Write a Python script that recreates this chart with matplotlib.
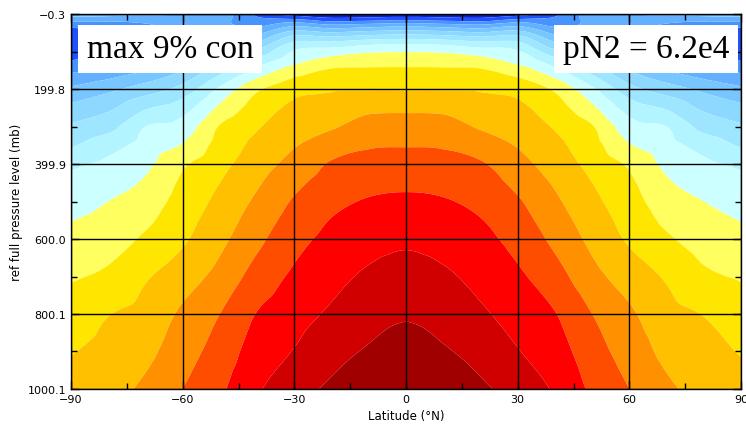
import numpy as np
import matplotlib
matplotlib.use("Agg")
import matplotlib.pyplot as plt
import matplotlib.tri as mtri
from matplotlib.ticker import FixedLocator

# ---- data ----
# pressure levels (mb) of the value table rows
pressure = [0, 10, 25, 40, 60, 80, 100, 125, 150, 200, 250, 300, 350, 400, 450, 500, 550, 600, 700, 800, 900, 1000]
# latitudes of the (symmetric) half table
lat_half = [0, 10, 20, 30, 40, 50, 60, 70, 80, 90]
# field value (contour band index) per latitude column, top to bottom
v_lat00 = [0.3, 1.25, 3.11, 4.7, 6.5, 8.02, 8.95, 9.63, 10.17, 10.94, 11.81, 12.41, 12.95, 13.38, 13.81, 14.18, 14.5, 14.83, 15.38, 15.9, 16.4, 16.9]
v_lat10 = [0.35, 1.11, 2.88, 4.5, 6.33, 7.86, 8.86, 9.59, 10.16, 10.94, 11.78, 12.38, 12.9, 13.32, 13.72, 14.08, 14.36, 14.64, 15.16, 15.63, 16.1, 16.6]
v_lat20 = [0.45, 1.0, 2.67, 4.2, 6.0, 7.47, 8.5, 9.42, 10.11, 10.89, 11.42, 11.9, 12.53, 13.1, 13.42, 13.74, 14.04, 14.26, 14.7, 15.15, 15.67, 16.17]
v_lat30 = [0.5, 1.63, 3.3, 4.67, 6.2, 7.35, 8.11, 8.67, 9.5, 10.67, 11.21, 11.57, 11.93, 12.33, 12.75, 13.11, 13.39, 13.67, 14.17, 14.61, 15.05, 15.61]
v_lat40 = [1.8, 2.1, 2.6, 3.25, 4.25, 5.25, 6.25, 7.4, 8.29, 9.83, 10.43, 10.9, 11.25, 11.56, 11.88, 12.18, 12.47, 12.76, 13.4, 14.04, 14.46, 14.88]
v_lat50 = [3.5, 3.4, 3.2, 3.1, 3.15, 3.8, 4.6, 5.6, 6.6, 8.2, 9.2, 10.07, 10.38, 10.69, 11.0, 11.25, 11.5, 11.75, 12.33, 13.0, 13.42, 13.83]
v_lat60 = [4.0, 3.7, 3.4, 3.25, 3.2, 3.4, 3.95, 4.44, 5.0, 6.38, 7.56, 8.4, 9.08, 9.85, 10.18, 10.41, 10.64, 10.86, 11.54, 12.17, 12.58, 13.0]
v_lat70 = [4.2, 3.6, 3.0, 2.75, 2.7, 2.8, 3.0, 3.5, 4.0, 5.5, 6.88, 8.0, 8.38, 8.77, 9.13, 9.47, 9.8, 10.15, 10.89, 11.35, 11.75, 12.2]
v_lat80 = [4.3, 3.75, 2.7, 2.25, 2.0, 2.1, 2.3, 2.7, 3.33, 4.75, 5.8, 6.67, 7.6, 8.23, 8.62, 9.0, 9.29, 9.57, 10.19, 10.96, 11.32, 11.66]
v_lat90 = [4.4, 3.82, 2.54, 1.87, 1.5, 1.33, 1.55, 2.0, 2.78, 4.18, 5.25, 6.15, 6.9, 7.8, 8.27, 8.62, 8.97, 9.28, 9.9, 10.43, 10.94, 11.37]

band_colors = ["#0b24c9", "#2050ff", "#4894ff", "#62b0ff", "#78c6ff", "#8cd8ff",
               "#9ee6ff", "#b2f4ff", "#ccffff", "#ffff60", "#ffe600", "#ffc000",
               "#ff9000", "#ff4d00", "#ff0000", "#d00000", "#a00000"]

xticks = [-90, -60, -30, 0, 30, 60, 90]
yticks = [-0.3, 199.8, 399.9, 600.0, 800.1, 1000.1]
ytick_labels = ["-0.3", "199.8", "399.9", "600.0", "800.1", "1000.1"]

# ---- build full symmetric table ----
cols_half = [v_lat00, v_lat10, v_lat20, v_lat30, v_lat40, v_lat50, v_lat60, v_lat70, v_lat80, v_lat90]
lats = [-l for l in lat_half[:0:-1]] + lat_half
cols = cols_half[:0:-1] + cols_half
Z = np.array(cols).T
P_plot = np.array(pressure, dtype=float)
P_plot[0] = -0.3
P_plot[-1] = 1000.1

LAT, PP = np.meshgrid(np.array(lats, dtype=float), P_plot)
# triangulate in (roughly isotropic) display units, smooth with matplotlib's tri refiner
sx, sy = 670 / 180.0, 0.375
tri = mtri.Triangulation(LAT.ravel() * sx, PP.ravel() * sy)
refiner = mtri.UniformTriRefiner(tri)
interp = mtri.CubicTriInterpolator(tri, Z.ravel(), kind="geom")
tri_ref, z_ref = refiner.refine_field(Z.ravel(), triinterpolator=interp, subdiv=4)
tri_plot = mtri.Triangulation(tri_ref.x / sx, tri_ref.y / sy, triangles=tri_ref.triangles)

fig = plt.figure(figsize=(7.46, 4.31), dpi=100)
ax = fig.add_axes([71/746, 1 - 390/431, 670/746, 375/431])

levels = list(range(len(band_colors) + 1))
z_ref = np.clip(z_ref, 0.01, len(band_colors) - 0.01)
ax.tricontourf(tri_plot, z_ref, levels=levels, colors=band_colors, antialiased=True)

ax.set_xlim(-90, 90)
ax.set_ylim(1000.1, -0.3)
ax.set_xticks(xticks)
ax.set_xticklabels([str(t).replace("-", "\u2212") for t in xticks])
ax.xaxis.set_minor_locator(FixedLocator([-75, -45, -15, 15, 45, 75]))
ax.set_yticks(yticks)
ax.set_yticklabels([t.replace("-", "\u2212") for t in ytick_labels])
ax.yaxis.set_minor_locator(FixedLocator([100, 300, 500, 700, 900]))
ax.tick_params(which="both", direction="in", top=True, right=True, labelsize=8, color="black")
ax.tick_params(which="major", length=6, width=1)
ax.tick_params(which="minor", length=4, width=1)
ax.grid(True, which="major", color="black", linewidth=1)
for s in ax.spines.values():
    s.set_linewidth(1)
    s.set_color("black")

ax.set_xlabel("Latitude (°N)", fontsize=8.5, labelpad=4)
ax.set_ylabel("ref full pressure level (mb)", fontsize=8.5, labelpad=3)

fig.text(170/746, 1 - 50/431, "max 9% con", family="Liberation Serif", fontsize=24,
         ha="center", va="center",
         bbox=dict(facecolor="white", edgecolor="none", boxstyle="square,pad=0.25"))
fig.text(646/746, 1 - 50/431, "pN2 = 6.2e4", family="Liberation Serif", fontsize=24,
         ha="center", va="center",
         bbox=dict(facecolor="white", edgecolor="none", boxstyle="square,pad=0.25"))

fig.savefig("out.png", dpi=100)
